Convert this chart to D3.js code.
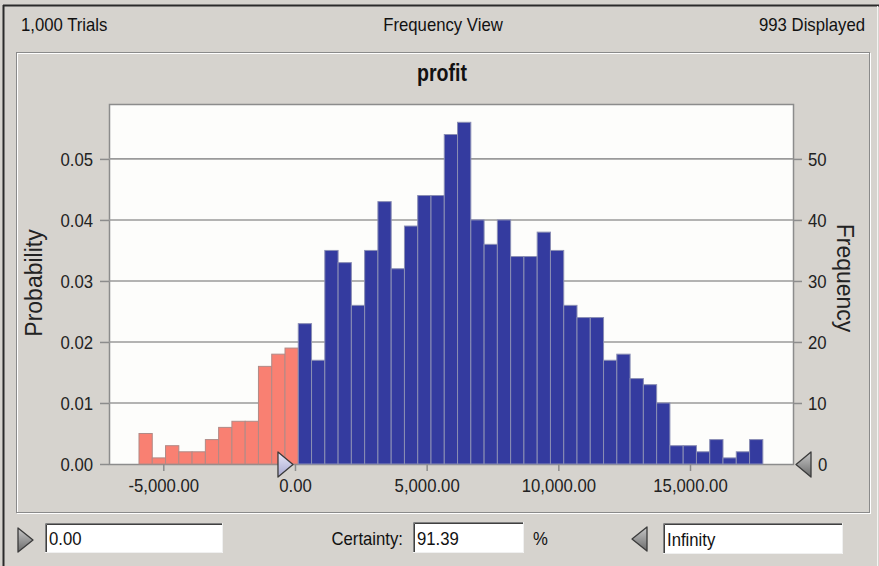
<!DOCTYPE html>
<html><head><meta charset="utf-8">
<script src="https://cdn.jsdelivr.net/npm/d3@7"></script>
<style>html,body{margin:0;padding:0;background:#d6d3ce;overflow:hidden}</style>
</head><body><svg id="c" width="879" height="566"></svg>
<script>
// ---------- data ----------
const trialsLabel = "1,000 Trials";
const viewLabel = "Frequency View";
const displayedLabel = "993 Displayed";
const chartTitle = "profit";
const binStart = -5923;
const binWidth = 504;
const frequencies = [5,1,3,2,2,4,6,7,7,16,18,19,23,17,35,33,26,35,43,32,39,44,44,54,56,40,36,40,34,34,38,35,26,24,24,17,18,14,13,10,3,3,2,4,1,2,4];
const totalTrials = 1000;
const lowerBound = 0;
const lowerBoundText = "0.00";
const upperBoundText = "Infinity";
const certaintyText = "91.39";
const xTicks = [-5000, 0, 5000, 10000, 15000];
const freqTicks = [0, 10, 20, 30, 40, 50];
const probTicks = [0, 0.01, 0.02, 0.03, 0.04, 0.05];

// ---------- layout ----------
const W = 879, H = 566;
const plot = {l: 109, r: 793, t: 104, b: 464};
const FONT = "'Liberation Sans', Arial, sans-serif";
const FS = 19;
const SQ = 0.88;
const svg = d3.select("#c");

function squeeze(sel, f) {
  sel.each(function() {
    const w = this.getComputedTextLength();
    d3.select(this).attr("textLength", w * f).attr("lengthAdjust", "spacingAndGlyphs");
  });
}

const defs = svg.append("defs");
const g1 = defs.append("linearGradient").attr("id", "triGray").attr("x1", 0).attr("y1", 0).attr("x2", 0).attr("y2", 1);
g1.append("stop").attr("offset", "0%").attr("stop-color", "#c8c8c8");
g1.append("stop").attr("offset", "100%").attr("stop-color", "#6a6a6a");
const g2 = defs.append("linearGradient").attr("id", "triLav").attr("x1", 0).attr("y1", 0).attr("x2", 0).attr("y2", 1);
g2.append("stop").attr("offset", "0%").attr("stop-color", "#e8e8f8");
g2.append("stop").attr("offset", "100%").attr("stop-color", "#a8a8d0");

// background & window borders
svg.append("rect").attr("width", W).attr("height", H).attr("fill", "#d6d3ce");
svg.append("line").attr("x1", 3).attr("x2", W).attr("y1", 5.5).attr("y2", 5.5).attr("stroke", "#2a2a2a").attr("stroke-width", 2);
svg.append("line").attr("x1", 3.5).attr("x2", 3.5).attr("y1", 5).attr("y2", H).attr("stroke", "#2a2a2a").attr("stroke-width", 2);
svg.append("line").attr("x1", 877.5).attr("x2", 877.5).attr("y1", 6).attr("y2", H).attr("stroke", "#f4f4f2").attr("stroke-width", 1);

// header
const hdr = svg.append("g").attr("font-family", FONT).attr("font-size", FS).attr("fill", "#111");
hdr.append("text").attr("x", 21).attr("y", 31).text(trialsLabel).call(squeeze, SQ);
hdr.append("text").attr("x", 443).attr("y", 31).attr("text-anchor", "middle").text(viewLabel).call(squeeze, SQ);
hdr.append("text").attr("x", 865).attr("y", 31).attr("text-anchor", "end").text(displayedLabel).call(squeeze, SQ);

// etched frame
svg.append("rect").attr("x", 17.5).attr("y", 53.5).attr("width", 853).attr("height", 460).attr("fill", "none").attr("stroke", "#ffffff");
svg.append("rect").attr("x", 16.5).attr("y", 52.5).attr("width", 853).attr("height", 460).attr("fill", "none").attr("stroke", "#8a8a8a");

// title
svg.append("text").attr("x", 442).attr("y", 81).attr("text-anchor", "middle")
  .attr("font-family", FONT).attr("font-weight", "bold").attr("font-size", 23).attr("fill", "#111")
  .text(chartTitle).call(squeeze, 0.85);

// scales
const x = d3.scaleLinear().domain([-7062, 18911]).range([plot.l, plot.r]);
const yF = d3.scaleLinear().domain([0, 59]).range([plot.b, plot.t]);
const yP = d3.scaleLinear().domain([0, 59 / totalTrials]).range([plot.b, plot.t]);

// plot area
svg.append("rect").attr("x", plot.l + 0.5).attr("y", plot.t + 0.5)
  .attr("width", plot.r - plot.l).attr("height", plot.b - plot.t)
  .attr("fill", "#fdfdfb").attr("stroke", "#8c8c8c").attr("stroke-width", 1.5);

// gridlines
svg.append("g").selectAll("line").data(freqTicks.filter(d => d > 0)).join("line")
  .attr("x1", plot.l).attr("x2", plot.r)
  .attr("y1", d => yF(d)).attr("y2", d => yF(d))
  .attr("stroke", "#9a9a9a").attr("stroke-width", 1.6);

// bars
const bins = frequencies.map((f, i) => ({x0: binStart + i * binWidth, x1: binStart + (i + 1) * binWidth, f}));
svg.append("g").selectAll("rect").data(bins).join("rect")
  .attr("x", d => x(d.x0)).attr("width", d => x(d.x1) - x(d.x0))
  .attr("y", d => yF(d.f)).attr("height", d => yF(0) - yF(d.f))
  .attr("fill", d => ((d.x0 + d.x1) / 2 < lowerBound ? "#f98072" : "#343b9f"))
  .attr("stroke", d => ((d.x0 + d.x1) / 2 < lowerBound ? "#b08a86" : "#8a8eb4"))
  .attr("stroke-width", 1);

// axes
function styleAxis(g) {
  g.select(".domain").remove();
  g.selectAll(".tick line").attr("stroke", "#8c8c8c").attr("stroke-width", 1.5);
  g.selectAll(".tick text").attr("font-family", FONT).attr("font-size", FS).attr("fill", "#222");
}
const leftAxis = svg.append("g").attr("transform", `translate(${plot.l},0)`)
  .call(d3.axisLeft(yP).tickValues(probTicks).tickSize(9).tickPadding(7).tickFormat(d3.format(".2f")))
  .call(styleAxis);
leftAxis.selectAll(".tick text").call(squeeze, SQ);

const rightAxis = svg.append("g").attr("transform", `translate(${plot.r},0)`)
  .call(d3.axisRight(yF).tickValues(freqTicks).tickSize(9).tickPadding(6))
  .call(styleAxis);
rightAxis.selectAll(".tick").filter(d => d === 0).select("line").remove();
rightAxis.selectAll(".tick").filter(d => d === 0).select("text").attr("x", 25);
rightAxis.selectAll(".tick text").call(squeeze, SQ);

const fmtX = d3.format(",.2f");
const bottomAxis = svg.append("g").attr("transform", `translate(0,${plot.b})`)
  .call(d3.axisBottom(x).tickValues(xTicks).tickSize(7).tickPadding(8).tickFormat(d => fmtX(d).replace("\u2212", "-")))
  .call(styleAxis);
bottomAxis.selectAll(".tick text").call(squeeze, SQ);

// axis titles
svg.append("text").attr("transform", "translate(42,283) rotate(-90)").attr("text-anchor", "middle")
  .attr("font-family", FONT).attr("font-size", 23).attr("fill", "#222").text("Probability");
svg.append("text").attr("transform", "translate(837,278) rotate(90)").attr("text-anchor", "middle")
  .attr("font-family", FONT).attr("font-size", 23).attr("fill", "#222").text("Frequency");

// triangle markers
function tri(x0, y0, x1, y1, dir, fill) {
  const ym = (y0 + y1) / 2;
  const p = dir === "right" ? `M${x0},${y0}L${x1},${ym}L${x0},${y1}Z` : `M${x1},${y0}L${x0},${ym}L${x1},${y1}Z`;
  svg.append("path").attr("d", p).attr("fill", fill).attr("stroke", "#3a3a3a").attr("stroke-width", 1.3).attr("stroke-linejoin", "round");
}
const x0pos = x(lowerBound);
tri(x0pos - 17, 452, x0pos - 2, 477, "right", "url(#triLav)");
tri(plot.r + 3, 452, plot.r + 18, 477, "left", "url(#triGray)");
tri(18, 528, 33, 552, "right", "url(#triGray)");
tri(632, 527, 647, 551, "left", "url(#triGray)");

// input boxes
function box(x0, y0, w, h, txt) {
  svg.append("rect").attr("x", x0).attr("y", y0).attr("width", w).attr("height", h).attr("fill", "#fff");
  svg.append("path").attr("d", `M${x0 + 0.5},${y0 + h}V${y0 + 0.5}H${x0 + w}`).attr("fill", "none").attr("stroke", "#808080").attr("stroke-width", 1);
  svg.append("path").attr("d", `M${x0 + 1.5},${y0 + h - 1}V${y0 + 1.5}H${x0 + w - 1}`).attr("fill", "none").attr("stroke", "#404040").attr("stroke-width", 1);
  svg.append("path").attr("d", `M${x0},${y0 + h - 0.5}H${x0 + w - 0.5}V${y0}`).attr("fill", "none").attr("stroke", "#f0f0f0").attr("stroke-width", 1);
  svg.append("text").attr("x", x0 + 4).attr("y", y0 + h / 2 + 7).attr("font-family", FONT).attr("font-size", FS).attr("fill", "#111").text(txt).call(squeeze, SQ);
}
box(45, 523, 178, 30, lowerBoundText);
box(413, 522, 111, 31, certaintyText);
box(663, 523, 180, 31, upperBoundText);
svg.append("text").attr("x", 403).attr("y", 545).attr("text-anchor", "end").attr("font-family", FONT).attr("font-size", FS).attr("fill", "#111").text("Certainty:").call(squeeze, SQ);
svg.append("text").attr("x", 533).attr("y", 545).attr("font-family", FONT).attr("font-size", FS).attr("fill", "#111").text("%").call(squeeze, SQ);
</script></body></html>
